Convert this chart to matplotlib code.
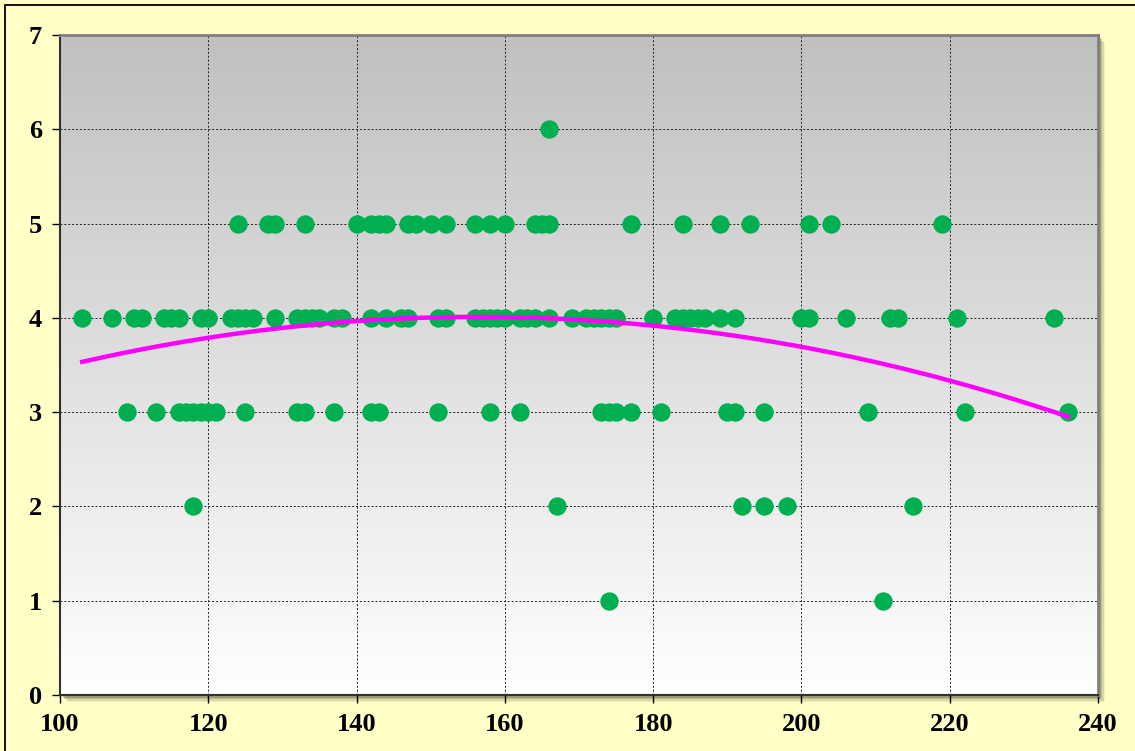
import numpy as np
import matplotlib.pyplot as plt
from matplotlib.patches import Rectangle
from matplotlib.colors import LinearSegmentedColormap

# scatter values, grouped by y level
x_y6 = [166]
x_y5 = [124, 128, 129, 133, 140, 142, 143, 144, 147, 148, 150, 152, 156, 158,
        160, 164, 165, 166, 177, 184, 189, 193, 201, 204, 219]
x_y4 = [103, 107, 110, 111, 114, 115, 116, 119, 120, 123, 124, 125, 126, 129,
        132, 133, 134, 135, 137, 138, 142, 144, 146, 147, 151, 152, 156, 157,
        158, 159, 160, 162, 163, 164, 166, 169, 171, 172, 173, 174, 175, 180,
        183, 184, 185, 186, 187, 189, 191, 200, 201, 206, 212, 213, 221, 234]
x_y3 = [109, 113, 116, 117, 118, 119, 120, 121, 125, 132, 133, 137, 142, 143,
        151, 158, 162, 173, 174, 175, 177, 181, 190, 191, 195, 209, 222, 236]
x_y2 = [118, 167, 192, 195, 198, 215]
x_y1 = [174, 211]

xs = np.array(x_y6 + x_y5 + x_y4 + x_y3 + x_y2 + x_y1, dtype=float)
ys = np.array([6] * len(x_y6) + [5] * len(x_y5) + [4] * len(x_y4) +
              [3] * len(x_y3) + [2] * len(x_y2) + [1] * len(x_y1), dtype=float)

x_ticks = [100, 120, 140, 160, 180, 200, 220, 240]
y_ticks = [0, 1, 2, 3, 4, 5, 6, 7]

W, H = 1135, 751
fig = plt.figure(figsize=(W / 100, H / 100), dpi=100, facecolor='#FFFFC6')
# chart border: only the top and left edges fall inside the picture
fig.patches.append(Rectangle((5 / W, -0.01), 1.2, 1.01 - 5 / H + 0.0, transform=fig.transFigure,
                             fill=False, edgecolor='black', linewidth=1.3, zorder=-2))

ax_pos = [60 / W, 1 - 695 / H, (1098 - 60) / W, (695 - 35) / H]
# soft drop shadow of the plot area
for i, a in enumerate([0.10, 0.18, 0.28, 0.40]):
    off = 7 - i * 1.5
    fig.patches.append(Rectangle((ax_pos[0] + off / W, ax_pos[1] - off / H), ax_pos[2], ax_pos[3],
                                 transform=fig.transFigure, facecolor='#707050', alpha=a,
                                 edgecolor='none', zorder=-1))

ax = fig.add_axes(ax_pos)
ax.set_zorder(1)
ax.set_xlim(100, 240)
ax.set_ylim(0, 7)

# grey-to-white gradient background
grad = np.linspace(0, 1, 256).reshape(-1, 1)
ax.imshow(grad, cmap=LinearSegmentedColormap.from_list('g', ['#C0C0C0', '#FFFFFF']),
          extent=[0, 1, 0, 1], transform=ax.transAxes, aspect='auto', zorder=0)

ax.grid(True, color='#202020', linestyle=(0, (2, 2)), linewidth=0.7, zorder=1)
ax.set_axisbelow(True)

ax.scatter(xs, ys, s=175, color='#00B050', zorder=3, linewidths=0)

# 2nd order polynomial trendline, as the spreadsheet computes it
coef = np.polyfit(xs, ys, 2)
xt = np.linspace(xs.min(), xs.max(), 200)
ax.plot(xt, np.polyval(coef, xt), color='#FF00FF', linewidth=3.2, zorder=4)

ax.set_xticks(x_ticks)
ax.set_yticks(y_ticks)
for lab in ax.get_xticklabels() + ax.get_yticklabels():
    lab.set_fontfamily('Liberation Serif')
    lab.set_fontweight('bold')
    lab.set_fontsize(19)
ax.tick_params(direction='out', length=6, width=1, colors='black', pad=7)

for side in ['top', 'right']:
    ax.spines[side].set_color('#808080')
    ax.spines[side].set_linewidth(2)
for side in ['left', 'bottom']:
    ax.spines[side].set_color('#303030')
    ax.spines[side].set_linewidth(1.5)

fig.savefig('out.png', dpi=100, facecolor=fig.get_facecolor())
